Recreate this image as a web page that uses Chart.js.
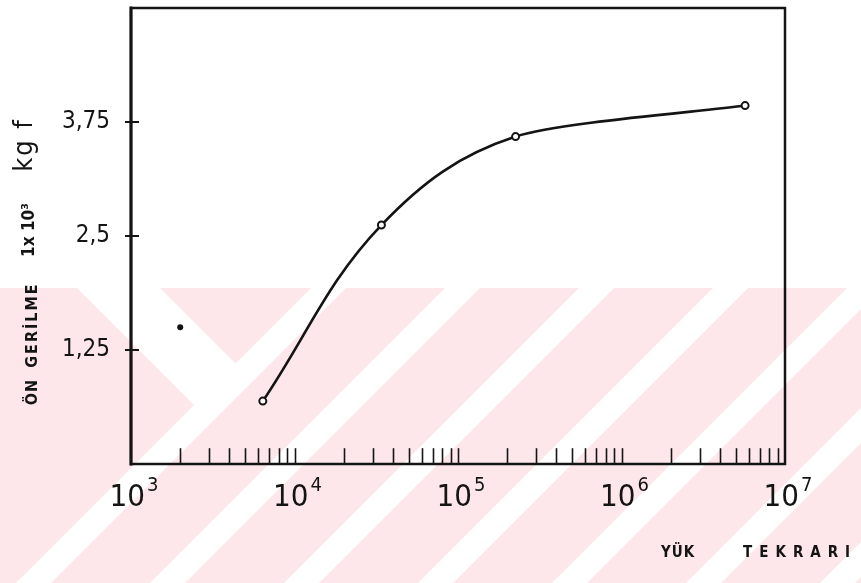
<!DOCTYPE html>
<html>
<head>
<meta charset="utf-8">
<script src="https://cdn.jsdelivr.net/npm/chart.js"></script>
<style>
    html, body { margin: 0; padding: 0; background: #fff; }
    .chart { width: 861px; height: 583px; }
</style>
</head>
<body>
<div class="chart">
    <canvas id="myChart" width="861" height="583"></canvas>
</div>
<script type="text/javascript">
    // yük tekrarı (cycles) vs ön gerilme (x10^3 kgf)
    const cycles = [6400, 34000, 225000, 5700000];
    const preload = [0.69, 2.62, 3.59, 3.93];
    // single filled measurement on the left
    const loneCycles = [2000];
    const loneLoad = [1.5];

    const yTicks = [1.25, 2.5, 3.75];
    const yTickLabels = ['1,25', '2,5', '3,75'];
    const xTicks = [1e3, 1e4, 1e5, 1e6, 1e7];
    const xTickBase = '10';
    const xTickExp = ['3', '4', '5', '6', '7'];

    const ink = '#141414';
    const font = '"DejaVu Sans Condensed", "DejaVu Sans", sans-serif';
    const narrow = '"Liberation Sans Narrow", "DejaVu Sans Condensed", sans-serif';
    const last = cycles.length - 1;

    // 2..9 inside every decade
    const minorTicks = [];
    xTicks.slice(0, -1).forEach(d => {
        for (let m = 2; m <= 9; m++) minorTicks.push(d * m);
    });

    // pink stamp in the lower half of the page
    const stamp = {
        id: 'stamp',
        beforeDraw(chart) {
            const c = chart.ctx;
            const W = chart.width, H = chart.height;
            const top = 288;
            c.save();
            c.fillStyle = '#fff';
            c.fillRect(0, 0, W, H);
            c.beginPath();
            c.rect(0, top, W, H - top);
            c.clip();
            c.fillStyle = '#fde7eb';
            c.fillRect(0, top, W, H - top);
            c.fillStyle = '#fff';
            const h = H - top;
            // "/" bands
            [311, 445, 579, 713, 847, 981, 1115].forEach(x0 => {
                c.beginPath();
                c.moveTo(x0, top);
                c.lineTo(x0 + 35, top);
                c.lineTo(x0 + 35 - h, H);
                c.lineTo(x0 - h, H);
                c.closePath();
                c.fill();
            });
            // "\" arm of the chevron on the left
            c.beginPath();
            c.moveTo(77, top);
            c.lineTo(160, top);
            c.lineTo(253, top + 93);
            c.lineTo(194, top + 117);
            c.closePath();
            c.fill();
            c.restore();
        }
    };

    // frame, inward ticks, decade labels and axis titles
    const frame = {
        id: 'frame',
        afterDatasetsDraw(chart) {
            const c = chart.ctx;
            const a = chart.chartArea;
            const xs = chart.scales.x, ys = chart.scales.y;
            c.save();
            c.strokeStyle = ink;
            c.lineCap = 'square';

            c.lineWidth = 1.6;
            minorTicks.concat([1e4, 1e5, 1e6]).forEach(v => {
                const px = Math.round(xs.getPixelForValue(v)) + 0.5;
                c.beginPath();
                c.moveTo(px, a.bottom);
                c.lineTo(px, a.bottom - 15);
                c.stroke();
            });
            c.lineWidth = 2;
            yTicks.forEach(v => {
                const py = Math.round(ys.getPixelForValue(v));
                c.beginPath();
                c.moveTo(a.left - 5, py);
                c.lineTo(a.left + 7, py);
                c.stroke();
            });

            c.lineWidth = 2.5;
            c.strokeRect(a.left, a.top, a.right - a.left, a.bottom - a.top);
            c.lineWidth = 3;
            c.beginPath();
            c.moveTo(a.left, a.top);
            c.lineTo(a.left, a.bottom);
            c.stroke();

            c.fillStyle = ink;
            c.textBaseline = 'alphabetic';

            // 10^n under each decade
            xTicks.forEach((v, i) => {
                const px = xs.getPixelForValue(v) + 3;
                c.font = '31px ' + narrow;
                const wb = c.measureText(xTickBase).width;
                c.font = '20px ' + narrow;
                const we = c.measureText(xTickExp[i]).width;
                const x0 = px - (wb + 2 + we) / 2;
                c.textAlign = 'left';
                c.font = '31px ' + narrow;
                c.fillText(xTickBase, x0, a.bottom + 42);
                c.font = '20px ' + narrow;
                c.fillText(xTickExp[i], x0 + wb + 2, a.bottom + 27);
            });

            c.textAlign = 'center';
            const vtext = (txt, x, y, f, sp) => {
                c.save();
                c.translate(x, y);
                c.rotate(-Math.PI / 2);
                c.font = f;
                c.letterSpacing = sp || '0px';
                c.fillText(txt, 0, 0);
                c.restore();
            };
            vtext('ÖN', 37, 392, 'bold 16px ' + font, '1px');
            vtext('GERİLME', 37, 325, 'bold 16px ' + font, '2px');
            vtext('1x 10³', 34, 230, 'bold 17px ' + font, '0px');
            vtext('kg f', 32, 145, '27px ' + font, '2px');

            c.font = 'bold 15px ' + font;
            c.letterSpacing = '1px';
            c.fillText('YÜK', 678, 557);
            c.letterSpacing = '7px';
            c.textAlign = 'left';
            c.fillText('TEKRARI', 743, 557);
            c.restore();
        }
    };

    const ctx = document.getElementById('myChart');
    const points = cycles.map((c, i) => ({x: c, y: preload[i]}));
    var chart = new Chart(ctx, {
        type: 'line',
        data: {
            datasets: [{
                // rising part, drawn up to the third point
                data: points,
                borderColor: ink,
                borderWidth: 2.6,
                tension: 0.38,
                segment: {
                    borderColor: s => s.p1DataIndex === last ? 'transparent' : ink
                },
                pointRadius: 3.5,
                pointBorderWidth: 2,
                pointBorderColor: ink,
                pointBackgroundColor: '#fff',
                fill: false
            }, {
                // flat tail to the last point
                data: points,
                borderColor: ink,
                borderWidth: 2.6,
                tension: 0.2,
                segment: {
                    borderColor: s => s.p1DataIndex === last ? ink : 'transparent'
                },
                pointRadius: 0,
                fill: false
            }, {
                data: loneCycles.map((c, i) => ({x: c, y: loneLoad[i]})),
                showLine: false,
                pointRadius: 3,
                pointBorderWidth: 0,
                pointBackgroundColor: ink
            }]
        },
        options: {
            responsive: false,
            devicePixelRatio: 1,
            animation: false,
            layout: { padding: { left: 0, right: 76, top: 8, bottom: 0 } },
            plugins: { legend: { display: false }, tooltip: { enabled: false } },
            scales: {
                x: {
                    type: 'logarithmic',
                    min: 1e3,
                    max: 1e7,
                    grid: { display: false, drawTicks: false },
                    border: { display: false },
                    ticks: { display: false },
                    afterFit: s => {
                        s.height = 119;
                        s.paddingLeft = 0;
                        s.paddingRight = 0;
                    }
                },
                y: {
                    min: 0,
                    max: 5,
                    grid: { display: false, drawTicks: false },
                    border: { display: false },
                    afterBuildTicks: s => { s.ticks = yTicks.map(v => ({value: v})); },
                    afterFit: s => {
                        s.width = 131;
                        s.paddingTop = 0;
                        s.paddingBottom = 0;
                    },
                    ticks: {
                        padding: 21,
                        color: ink,
                        font: { family: font, size: 24 },
                        callback: (v, i) => yTickLabels[i]
                    }
                }
            }
        },
        plugins: [stamp, frame]
    });
</script>
</body>
</html>
